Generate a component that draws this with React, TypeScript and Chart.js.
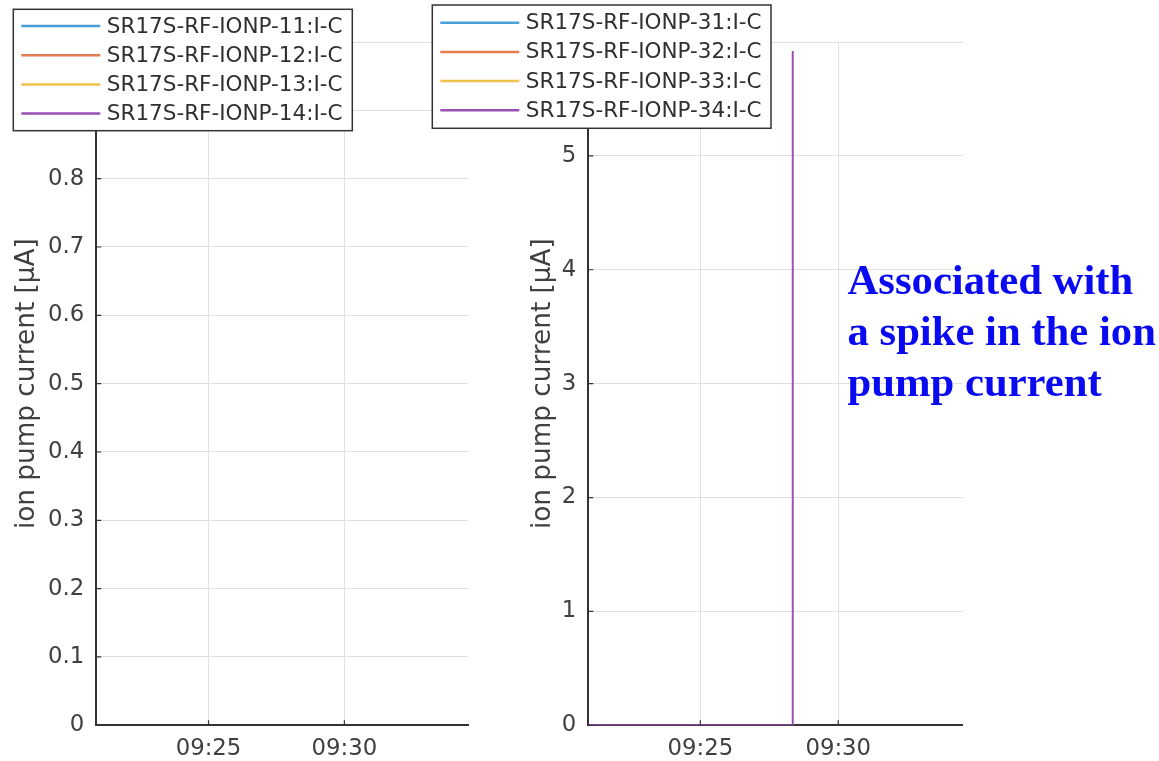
import React, { useEffect, useRef } from 'react';
import { Chart, registerables } from 'chart.js';

Chart.register(...registerables);

// ---------------- data ----------------
const leftSeriesLabels = [
  'SR17S-RF-IONP-11:I-C',
  'SR17S-RF-IONP-12:I-C',
  'SR17S-RF-IONP-13:I-C',
  'SR17S-RF-IONP-14:I-C',
];
const rightSeriesLabels = [
  'SR17S-RF-IONP-31:I-C',
  'SR17S-RF-IONP-32:I-C',
  'SR17S-RF-IONP-33:I-C',
  'SR17S-RF-IONP-34:I-C',
];
const seriesColors = ['#4a9fd8', '#e47c52', '#efc24e', '#9a4fb2'];

// times are minutes after 09:00, values in µA
const leftTimes: number[][] = [[], [], [], []];
const leftValues: number[][] = [[], [], [], []];
const rightTimes: number[][] = [[], [], [], [20.94, 28.35, 28.35]];
const rightValues: number[][] = [[], [], [], [0, 0, 5.92]];

const xTickMinutes = [25, 30];
const leftXRange = [20.87, 34.56];
const rightXRange = [20.94, 34.51];
const leftYTicks = [0, 0.1, 0.2, 0.3, 0.4, 0.5, 0.6, 0.7, 0.8, 0.9, 1];
const rightYTicks = [0, 1, 2, 3, 4, 5, 6];
const yAxisTitle = 'ion pump current [μA]';
const annotationLines = ['Associated with', 'a spike in the ion', 'pump current'];

// ---------------- helpers ----------------
const FONT = "'DejaVu Sans', sans-serif";
const fmtTime = (m: number) => {
  const h = 9 + Math.floor(m / 60);
  const mm = Math.round(m % 60);
  return `${String(h).padStart(2, '0')}:${String(mm).padStart(2, '0')}`;
};

const boxLegendPlugin = {
  id: 'boxLegend',
  afterDraw(chart: any, _args: any, opts: any) {
    const { ctx } = chart;
    const ds = chart.data.datasets;
    ctx.save();
    ctx.fillStyle = '#ffffff';
    ctx.fillRect(opts.x, opts.y, opts.w, opts.h);
    ctx.strokeStyle = '#333333';
    ctx.lineWidth = 1.5;
    ctx.strokeRect(opts.x, opts.y, opts.w, opts.h);
    ctx.font = `${opts.fontSize}px ${FONT}`;
    ctx.textBaseline = 'middle';
    ctx.textAlign = 'left';
    ds.forEach((d: any, i: number) => {
      const yy = opts.y + opts.rowStart + i * opts.rowGap;
      ctx.strokeStyle = d.borderColor;
      ctx.lineWidth = 2.5;
      ctx.beginPath();
      ctx.moveTo(opts.x + 8, yy);
      ctx.lineTo(opts.x + 87, yy);
      ctx.stroke();
      ctx.fillStyle = '#303030';
      ctx.fillText(d.label, opts.x + 93.5, yy + 1);
    });
    ctx.restore();
  },
};

const innerTicksPlugin = {
  id: 'innerTicks',
  afterDatasetsDraw(chart: any) {
    const { ctx, chartArea, scales } = chart;
    ctx.save();
    ctx.strokeStyle = '#333333';
    ctx.lineWidth = 1.2;
    ctx.beginPath();
    scales.x.ticks.forEach((t: any) => {
      const px = scales.x.getPixelForValue(t.value);
      ctx.moveTo(px, chartArea.bottom);
      ctx.lineTo(px, chartArea.bottom - 5);
    });
    scales.y.ticks.forEach((t: any) => {
      const py = scales.y.getPixelForValue(t.value);
      ctx.moveTo(chartArea.left, py);
      ctx.lineTo(chartArea.left + 5, py);
    });
    ctx.stroke();
    ctx.restore();
  },
};

type PanelProps = {
  labels: string[];
  times: number[][];
  values: number[][];
  xRange: number[];
  yTicks: number[];
  left: number;
  width: number;
  padLeft: number;
  padRight: number;
  yAxisWidth: number;
  titlePad: number;
  legend: { x: number; y: number; w: number; h: number; rowStart: number };
};

function Panel(p: PanelProps) {
  const ref = useRef<HTMLCanvasElement | null>(null);
  useEffect(() => {
    if (!ref.current) return;
    const chart = new Chart(ref.current, {
      type: 'line',
      data: {
        datasets: p.labels.map((label, i) => ({
          label,
          data: p.times[i].map((t, j) => ({ x: t, y: p.values[i][j] })),
          borderColor: seriesColors[i],
          backgroundColor: seriesColors[i],
          borderWidth: 2,
          pointRadius: 0,
          tension: 0,
          fill: false,
        })),
      },
      options: {
        animation: false,
        responsive: false,
        events: [],
        layout: { padding: { left: p.padLeft, right: p.padRight, top: 42, bottom: 0 } },
        plugins: {
          legend: { display: false },
          tooltip: { enabled: false },
          boxLegend: { ...p.legend, rowGap: 29.2, fontSize: 21.5 },
        } as any,
        scales: {
          x: {
            type: 'linear',
            min: p.xRange[0],
            max: p.xRange[1],
            afterBuildTicks: (s: any) => {
              s.ticks = xTickMinutes.map((v) => ({ value: v }));
            },
            afterFit: (s: any) => {
              s.height = 35.7;
            },
            grid: { color: '#e0e0e0', lineWidth: 1, drawTicks: false },
            border: { color: '#333333', width: 2 },
            ticks: {
              padding: 10,
              color: '#404040',
              font: { family: FONT, size: 22.8 },
              maxRotation: 0,
              autoSkip: false,
              callback: (v: any) => fmtTime(Number(v)),
            },
          },
          y: {
            type: 'linear',
            min: p.yTicks[0],
            max: p.yTicks[p.yTicks.length - 1],
            afterBuildTicks: (s: any) => {
              s.ticks = p.yTicks.map((v) => ({ value: v }));
            },
            afterFit: (s: any) => {
              s.width = p.yAxisWidth;
            },
            grid: { color: '#e0e0e0', lineWidth: 1, drawTicks: false },
            border: { color: '#333333', width: 2 },
            title: {
              display: true,
              text: yAxisTitle,
              color: '#404040',
              font: { family: FONT, size: 26.3, lineHeight: 1.2 },
              padding: { top: p.titlePad, bottom: 0 },
            },
            ticks: {
              padding: 12,
              color: '#404040',
              font: { family: FONT, size: 22.8 },
              callback: (v: any) => String(+Number(v).toFixed(2)),
            },
          },
        },
      } as any,
      plugins: [innerTicksPlugin, boxLegendPlugin],
    });
    return () => chart.destroy();
  }, []);
  return (
    <canvas
      ref={ref}
      width={p.width}
      height={761}
      style={{ position: 'absolute', left: p.left, top: 0, width: p.width, height: 761 }}
    />
  );
}

export default function App() {
  return (
    <div style={{ position: 'absolute', left: 0, top: 0, width: 1159, height: 761, background: '#ffffff', overflow: 'hidden' }}>
      <Panel
        labels={leftSeriesLabels}
        times={leftTimes}
        values={leftValues}
        xRange={leftXRange}
        yTicks={leftYTicks}
        left={0}
        width={480}
        padLeft={0}
        padRight={11.7}
        yAxisWidth={96.3}
        titlePad={11.2}
        legend={{ x: 13.3, y: 9.3, w: 339, h: 121.4, rowStart: 16.7 }}
      />
      <Panel
        labels={rightSeriesLabels}
        times={rightTimes}
        values={rightValues}
        xRange={rightXRange}
        yTicks={rightYTicks}
        left={420}
        width={560}
        padLeft={70}
        padRight={17.3}
        yAxisWidth={98.3}
        titlePad={37.5}
        legend={{ x: 12.3, y: 5, w: 338.7, h: 123.3, rowStart: 17.7 }}
      />
      <div
        style={{
          position: 'absolute',
          left: 847.5,
          top: 253.6,
          fontFamily: "'Liberation Serif', 'Times New Roman', serif",
          fontWeight: 'bold',
          fontSize: 42.7,
          lineHeight: '51px',
          color: '#0a0af0',
          whiteSpace: 'nowrap',
        }}
      >
        {annotationLines.map((l, i) => (
          <div key={i}>{l}</div>
        ))}
      </div>
    </div>
  );
}
